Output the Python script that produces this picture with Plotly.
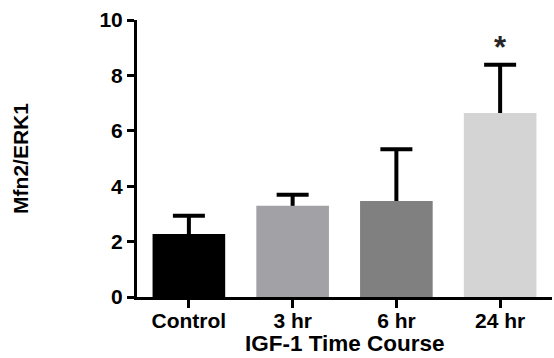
import plotly.graph_objects as go

categories = ["Control", "3 hr", "6 hr", "24 hr"]
means = [2.27, 3.29, 3.47, 6.64]
errors = [0.66, 0.40, 1.86, 1.74]
colors = ["#000000", "#a2a2a6", "#808080", "#d4d4d4"]
y_ticks = [0, 2, 4, 6, 8, 10]
significance = ["", "", "", "*"]
x_title = "IGF-1 Time Course"
y_title = "Mfn2/ERK1"

FONT = "Liberation Sans"
HIDDEN_DROP = [0.4] * len(means)  # lower end of error bar hidden behind bar

fig = go.Figure()
# error bars (drawn first, lower cap hidden by the bars drawn on top)
fig.add_trace(go.Bar(
    x=categories,
    y=means,
    marker=dict(color="rgba(0,0,0,0)", line=dict(width=0)),
    width=0.7,
    error_y=dict(type="data", symmetric=False, array=errors,
                 arrayminus=HIDDEN_DROP,
                 color="#000000", thickness=4, width=16),
    showlegend=False, hoverinfo="skip",
))
fig.add_trace(go.Bar(
    x=categories,
    y=means,
    marker=dict(color=colors, line=dict(width=0)),
    width=0.7,
    showlegend=False,
))

for cat, m, e, s in zip(categories, means, errors, significance):
    if s:
        fig.add_annotation(x=cat, y=m + e - 0.08, text=s, showarrow=False,
                           yanchor="bottom", xanchor="center",
                           font=dict(family=FONT, size=31, color="#262626"))

# x-axis title as annotation for exact placement
fig.add_annotation(xref="paper", yref="paper", x=0.5, y=-0.218,
                   text=x_title, showarrow=False, borderpad=0,
                   xanchor="center", yanchor="bottom",
                   font=dict(family=FONT, size=22.5, weight="bold", color="#000000"))

fig.update_layout(
    width=554, height=358,
    margin=dict(l=137, r=2, t=20, b=61, autoexpand=False),
    paper_bgcolor="white", plot_bgcolor="white",
    font=dict(family=FONT, color="#000000", size=21, weight="bold"),
    barmode="overlay",
)
fig.update_xaxes(
    range=[-0.5, 3.5], automargin=False,
    showline=True, linecolor="#000000", linewidth=3,
    ticks="outside", ticklen=8, tickwidth=3, tickcolor="#000000",
    ticklabelstandoff=-5,
    tickfont=dict(family=FONT, size=21, weight="bold", color="#000000"),
    showgrid=False, zeroline=False,
)
fig.update_yaxes(
    range=[0, 10], tickvals=y_ticks, automargin=False,
    showline=True, linecolor="#000000", linewidth=3,
    ticks="outside", ticklen=7, tickwidth=3, tickcolor="#000000",
    tickfont=dict(family=FONT, size=21, weight="bold", color="#000000"),
    title=dict(text=y_title, standoff=66,
               font=dict(family=FONT, size=21, weight="bold", color="#000000")),
    showgrid=False, zeroline=False,
)

fig.write_html("out.html")
